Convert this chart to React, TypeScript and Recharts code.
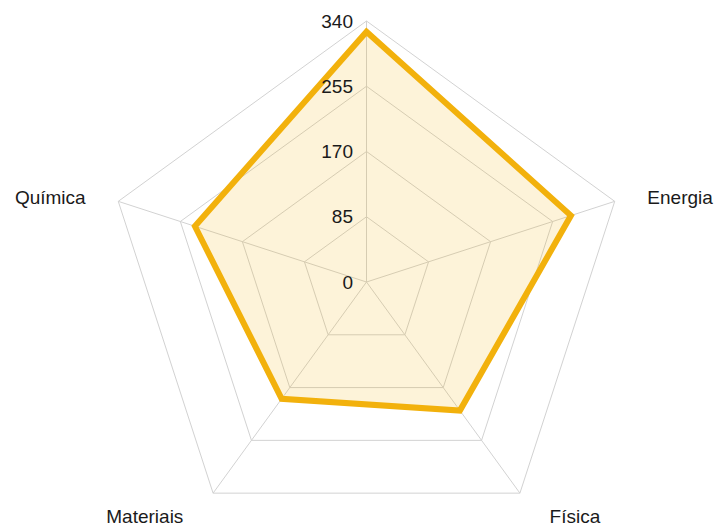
import { RadarChart, Radar, PolarGrid, PolarAngleAxis, PolarRadiusAxis } from 'recharts'

const subjects = ['', 'Energia', 'Física', 'Materiais', 'Química']
const scores = [326, 280, 207, 188, 235]
const radiusTicks = [0, 85, 170, 255, 340]

const data = subjects.map((s, i) => ({ subject: s, score: scores[i] }))

const CX = 366.5
const CY = 282
const FONT = '"Liberation Sans", Arial, Helvetica, sans-serif'

function AngleTick(props: any) {
  const { x, y, payload } = props
  if (!payload.value) return null
  const right = x > CX + 1
  const left = x < CX - 1
  const anchor = right ? 'start' : left ? 'end' : 'middle'
  const dx = right ? 25 : left ? -25 : 0
  const dy = y > CY ? 17 : -1
  return (
    <text x={x + dx} y={y + dy} textAnchor={anchor} dominantBaseline="central" fontSize={19} fontFamily={FONT} fill="#1a1a1a">
      {payload.value}
    </text>
  )
}

function RadiusTick(props: any) {
  const { x, y, payload } = props
  return (
    <text x={x - 13.5} y={y} textAnchor="end" dominantBaseline="central" fontSize={19} fontFamily={FONT} fill="#1a1a1a">
      {payload.value}
    </text>
  )
}

export default function App() {
  return (
    <div style={{ position: 'absolute', left: 0, top: 0, width: 718, height: 528, background: '#fff' }}>
      <RadarChart width={718} height={528} data={data} cx={CX} cy={CY} outerRadius={261} margin={{ top: 0, right: 0, bottom: 0, left: 0 }}>
        <PolarGrid gridType="polygon" stroke="#d2d2d2" strokeWidth={1} />
        <PolarAngleAxis dataKey="subject" tick={<AngleTick />} tickLine={false} axisLine={false} />
        <PolarRadiusAxis
          angle={90}
          domain={[0, 340]}
          ticks={radiusTicks}
          tickCount={5}
          tick={<RadiusTick />}
          axisLine={false}
          tickLine={false}
        />
        <Radar
          dataKey="score"
          stroke="#f2b10c"
          strokeWidth={6}
          strokeLinejoin="miter"
          fill="#f0b000"
          fillOpacity={0.15}
          dot={false}
          isAnimationActive={false}
        />
      </RadarChart>
    </div>
  )
}
